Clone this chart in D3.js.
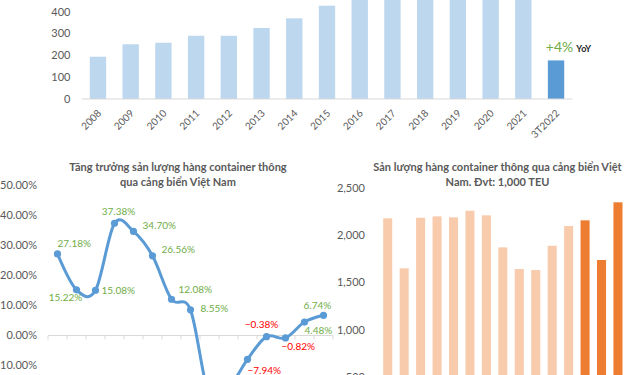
<!DOCTYPE html>
<html>
<head>
<meta charset="utf-8">
<script src="https://cdn.jsdelivr.net/npm/d3@7"></script>
<style>
  body { margin: 0; background: #fff; }
  svg { display: block; font-family: Lato, "Liberation Sans", sans-serif; }
  .tick-label { fill: #595959; }
  .title { fill: #595959; font-weight: bold; font-size: 11px; }
</style>
</head>
<body>
<svg id="chart"></svg>
<script>
// data
const years = ["2008", "2009", "2010", "2011", "2012", "2013", "2014", "2015",
    "2016", "2017", "2018", "2019", "2020", "2021", "3T2022"];
const yearlyCargo = [194, 251, 258, 290, 290, 326, 370, 428, 462, 525, 525, 665, 692, 706, 177];
const yearTicks = [0, 100, 200, 300, 400];

const months = ["T1/21", "T2/21", "T3/21", "T4/21", "T5/21", "T6/21", "T7/21", "T8/21",
    "T9/21", "T10/21", "T11/21", "T12/21", "T1/22", "T2/22", "T3/22"];
const growthPct = [27.18, 15.22, 15.08, 37.38, 34.70, 26.56, 12.08, 8.55,
    -20.5, -17.5, -7.94, -0.38, -0.82, 4.48, 6.74];
const growthTicks = [-10, 0, 10, 20, 30, 40, 50];

const monthlyTeu = [2177, 1650, 2183, 2198, 2188, 2257, 2209, 1871, 1643, 1632, 1888, 2096, 2156, 1738, 2346];
const monthYear = ["2021", "2021", "2021", "2021", "2021", "2021", "2021", "2021",
    "2021", "2021", "2021", "2021", "2022", "2022", "2022"];
const teuTicks = [0, 500, 1000, 1500, 2000, 2500];

// where each growth label sits relative to its point
const labelPlacement = [
    { dx: 0, dy: -10, anchor: "start" }, { dx: -11, dy: 8, anchor: "middle" },
    { dx: 6, dy: 0, anchor: "start" }, { dx: 4, dy: -12, anchor: "middle" },
    { dx: 9, dy: -6, anchor: "start" }, { dx: 9, dy: -6, anchor: "start" },
    { dx: 7, dy: -10, anchor: "start" }, { dx: 10, dy: -1, anchor: "start" },
    { dx: -14, dy: 14, anchor: "start" }, { dx: 8, dy: 14, anchor: "start" },
    { dx: 0, dy: 11, anchor: "start" }, { dx: -5, dy: -12, anchor: "middle" },
    { dx: -4, dy: 9, anchor: "start" }, { dx: 0, dy: 8, anchor: "start" },
    { dx: -20, dy: -10, anchor: "start" }
];

const W = 624, H = 375;
const svg = d3.select("#chart").attr("width", W).attr("height", H);

const green = "#70ad47", red = "#ff0000", axisGrey = "#d9d9d9";

// ---------- top chart: yearly bars ----------
const topG = svg.append("g");
const xTop = d3.scaleBand().domain(years).range([81.6, 572.4]).paddingInner(0.5).paddingOuter(0.25);
const yTop = d3.scaleLinear().domain([0, 400]).range([99, 11.8]);

topG.selectAll(".ybar").data(years).enter().append("rect")
    .attr("x", d => xTop(d))
    .attr("width", xTop.bandwidth())
    .attr("y", (d, i) => yTop(yearlyCargo[i]))
    .attr("height", (d, i) => yTop(0) - yTop(yearlyCargo[i]))
    .attr("fill", d => d === "3T2022" ? "#5b9bd5" : "#bdd7ee");

topG.append("line")
    .attr("x1", 81.6).attr("x2", 572.4)
    .attr("y1", yTop(0)).attr("y2", yTop(0))
    .attr("stroke", axisGrey);

topG.selectAll(".ytick").data(yearTicks).enter().append("text")
    .attr("class", "tick-label")
    .attr("x", 70.5).attr("y", d => yTop(d))
    .attr("dy", "0.35em")
    .attr("text-anchor", "end")
    .style("font-size", "11px")
    .text(d => d);

topG.selectAll(".xtick").data(years).enter().append("text")
    .attr("class", "tick-label")
    .attr("text-anchor", "end")
    .style("font-size", "10px")
    .attr("transform", d => `translate(${xTop(d) + xTop.bandwidth() / 2 + 4}, 114) rotate(-45)`)
    .text(d => d);

const lastYear = years[years.length - 1];
const yoy = topG.append("text")
    .attr("x", xTop(lastYear) - 2)
    .attr("y", yTop(yearlyCargo[yearlyCargo.length - 1]) - 8);
yoy.append("tspan").attr("fill", green).style("font-size", "14px").text("+4%");
yoy.append("tspan").attr("fill", "#262626").attr("dx", 3).style("font-size", "9px").style("font-weight", "bold").text("YoY");

// ---------- bottom left: growth line ----------
const lineG = svg.append("g");
const xLine = d3.scaleBand().domain(months).range([48, 333]);
const yLine = d3.scaleLinear().domain([-10, 50]).range([365.5, 185.5]);

lineG.append("text").attr("class", "title").attr("x", 178).attr("y", 171)
    .attr("text-anchor", "middle").text("Tăng trưởng sản lượng hàng container thông");
lineG.append("text").attr("class", "title").attr("x", 178).attr("y", 186)
    .attr("text-anchor", "middle").text("qua cảng biển Việt Nam");

lineG.selectAll(".gtick").data(growthTicks).enter().append("text")
    .attr("class", "tick-label")
    .attr("x", 37).attr("y", d => yLine(d))
    .attr("dy", "0.35em")
    .attr("text-anchor", "end")
    .style("font-size", "11px")
    .text(d => d3.format(".2f")(d) + "%");

lineG.append("line")
    .attr("x1", 48).attr("x2", 333)
    .attr("y1", yLine(0)).attr("y2", yLine(0))
    .attr("stroke", axisGrey);

const boundaries = months.map(m => xLine(m)).concat([xLine.range()[1]]);
lineG.selectAll(".xtick").data(boundaries).enter().append("line")
    .attr("x1", d => d).attr("x2", d => d)
    .attr("y1", yLine(0)).attr("y2", yLine(0) + 4)
    .attr("stroke", axisGrey);

const lineGen = d3.line()
    .x((d, i) => xLine(months[i]) + xLine.bandwidth() / 2)
    .y(d => yLine(d))
    .curve(d3.curveCatmullRom.alpha(0));

lineG.append("path")
    .datum(growthPct)
    .attr("d", lineGen)
    .attr("fill", "none")
    .attr("stroke", "#5b9bd5")
    .attr("stroke-width", 3);

lineG.selectAll(".pt").data(growthPct).enter().append("circle")
    .attr("cx", (d, i) => xLine(months[i]) + xLine.bandwidth() / 2)
    .attr("cy", d => yLine(d))
    .attr("r", 3.6)
    .attr("fill", "#5b9bd5");

lineG.selectAll(".plabel").data(growthPct).enter().append("text")
    .attr("x", (d, i) => xLine(months[i]) + xLine.bandwidth() / 2 + labelPlacement[i].dx)
    .attr("y", (d, i) => yLine(d) + labelPlacement[i].dy)
    .attr("dy", "0.35em")
    .attr("text-anchor", (d, i) => labelPlacement[i].anchor)
    .attr("fill", d => d < 0 ? red : green)
    .style("font-size", "10px")
    .text(d => d3.format(".2f")(d) + "%");

// ---------- bottom right: monthly TEU bars ----------
const teuG = svg.append("g");
const xTeu = d3.scaleBand().domain(months).range([379.5, 626.2]).paddingInner(0.45).paddingOuter(0.225);
const yTeu = d3.scaleLinear().domain([0, 2500]).range([424.9, 187.7]);

teuG.append("text").attr("class", "title").attr("x", 497.5).attr("y", 171)
    .attr("text-anchor", "middle").text("Sản lượng hàng container thông qua cảng biển Việt");
teuG.append("text").attr("class", "title").attr("x", 497.5).attr("y", 186)
    .attr("text-anchor", "middle").text("Nam. Đvt: 1,000 TEU");

teuG.selectAll(".ttick").data(teuTicks).enter().append("text")
    .attr("class", "tick-label")
    .attr("x", 365).attr("y", d => yTeu(d))
    .attr("dy", "0.35em")
    .attr("text-anchor", "end")
    .style("font-size", "11px")
    .text(d => d3.format(",")(d));

teuG.selectAll(".tbar").data(monthlyTeu).enter().append("rect")
    .attr("x", (d, i) => xTeu(months[i]))
    .attr("width", xTeu.bandwidth())
    .attr("y", d => yTeu(d))
    .attr("height", d => yTeu(0) - yTeu(d))
    .attr("fill", (d, i) => monthYear[i] === "2022" ? "#ed7d31" : "#f8cbad");
</script>
</body>
</html>
